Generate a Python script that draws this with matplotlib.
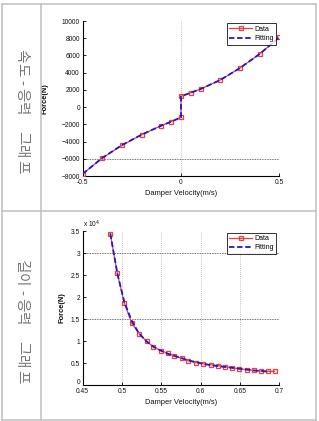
import matplotlib
matplotlib.use("Agg")
import matplotlib.pyplot as plt
from matplotlib.lines import Line2D
from matplotlib.ticker import FuncFormatter
import matplotlib.transforms as mtransforms

# ---------------- data ----------------
row_titles = ["속도-응력 그래프", "길이-응력 그래프"]

top_x = [-0.5, -0.4, -0.3, -0.2, -0.1, -0.05, 0.0, 0.0, 0.05, 0.1, 0.2, 0.3, 0.4, 0.5]
top_data = [-7750, -5900, -4440, -3200, -2150, -1690, -1190, 1250, 1680, 2100, 3150, 4540, 6170, 8100]
top_fit = [-7750, -5900, -4400, -3200, -2150, -1690, -1190, 1250, 1680, 2100, 3150, 4540, 6170, 8100]
top_xticks = [-0.5, 0, 0.5]
top_yticks = [-8000, -6000, -4000, -2000, 0, 2000, 4000, 6000, 8000, 10000]

bot_x = [0.4851, 0.4940, 0.5029, 0.5123, 0.5216, 0.5314, 0.5398, 0.5496, 0.5580, 0.5667,
         0.5759, 0.5842, 0.5940, 0.6033, 0.6127, 0.6216, 0.6309, 0.6402, 0.6491, 0.6585,
         0.6678, 0.6763, 0.6852, 0.6941]
bot_data = [34400, 25400, 18600, 14100, 11700, 9900, 8700, 7800, 7200, 6600,
            6100, 5500, 5100, 4800, 4600, 4400, 4200, 3900, 3700, 3500,
            3300, 3200, 3100, 3100]
bot_fit_x = bot_x[:-1]
bot_fit = [34400, 25400, 18900, 14600, 11700, 9900, 8700, 7800, 7100, 6600,
           6100, 5600, 5200, 4800, 4500, 4300, 4100, 3900, 3700, 3500,
           3300, 3200, 3050]
bot_xticks = [0.45, 0.5, 0.55, 0.6, 0.65, 0.7]
bot_xticklabels = ["0.45", "0.5", "0.55", "0.6", "0.65", "0.7"]
bot_yticks = [0, 5000, 10000, 15000, 20000, 25000, 30000, 35000]

# ---------------- figure ----------------
W, H = 319, 421
fig = plt.figure(figsize=(W / 100, H / 100), dpi=100)
fig.patch.set_facecolor("white")

def px_line(x0, y0, x1, y1, color="#c4c4c4", lw=1.2):
    fig.add_artist(Line2D([x0 / W, x1 / W], [1 - y0 / H, 1 - y1 / H],
                          transform=fig.transFigure, color=color, lw=lw))

# table borders
px_line(1.5, 3.5, 315.5, 3.5)
px_line(1.5, 419.5, 315.5, 419.5)
px_line(1.5, 3.5, 1.5, 419.5)
px_line(315.5, 3.5, 315.5, 419.5)
px_line(41, 3.5, 41, 419.5)
px_line(1.5, 211, 315.5, 211)

# vertical row titles, drawn glyph by glyph with letter spacing
def vertical_title(title, y_start):
    y = y_start
    for ch in title:
        if ch == " ":
            adv = 14
        elif ch == "-":
            adv = 10
        else:
            adv = 14.5
        if ch != " ":
            fig.text(21 / W, 1 - (y + adv / 2) / H, ch, rotation=270, ha="center",
                     va="center", fontsize=10.5, color="#777777",
                     family=["Noto Sans CJK KR", "DejaVu Sans"])
        y += adv

vertical_title(row_titles[0], 48)
vertical_title(row_titles[1], 258)

tick_font = dict(fontsize=4.8, family="Liberation Sans", color="#111111")
label_font = dict(fontsize=5.4, family="Liberation Sans", color="#111111")

red = "#f03c3c"
blue = "#1a1ad0"

def style_axes(ax):
    for s in ["top", "right"]:
        ax.spines[s].set_visible(False)
    for s in ["left", "bottom"]:
        ax.spines[s].set_linewidth(0.8)
    ax.tick_params(direction="in", length=2, width=0.6, pad=2)
    for lab in ax.get_xticklabels() + ax.get_yticklabels():
        lab.set_fontsize(tick_font["fontsize"])
        lab.set_family(tick_font["family"])
        lab.set_color(tick_font["color"])

def legend(ax, anchor):
    leg = ax.legend(loc="upper right", bbox_to_anchor=anchor,
                    handlelength=3.2, frameon=True, fancybox=False, borderpad=0.35,
                    labelspacing=0.35, handletextpad=0.4, borderaxespad=0,
                    prop={"family": "Liberation Sans", "size": 5})
    leg.get_frame().set_edgecolor("black")
    leg.get_frame().set_linewidth(0.7)
    leg.set_zorder(10)

# ---- top axes ----
ax1 = fig.add_axes([82.7 / W, 1 - 176 / H, 196.6 / W, 155 / H])
ax1.plot(top_x, top_data, "-s", color=red, lw=0.9, ms=3.2, mfc="none", mec=red, mew=0.9,
         label="Data", zorder=3)
ax1.plot(top_x, top_fit, "--", color=blue, lw=1.3, dashes=(3, 1.5), label="Fitting", zorder=4)
ax1.set_xlim(-0.5, 0.5)
ax1.set_ylim(-8000, 10000)
ax1.set_xticks(top_xticks)
ax1.set_xticklabels(["-0.5", "0", "0.5"])
ax1.set_yticks(top_yticks)
ax1.axvline(0, color="#aaaaaa", lw=0.6, ls=(0, (1, 1.5)), zorder=1)
ax1.axvline(0.5, color="#aaaaaa", lw=0.6, ls=(0, (1, 1.5)), zorder=1)
ax1.axhline(-6000, color="#444444", lw=0.6, ls=(0, (1, 1)), zorder=1)
style_axes(ax1)
ax1.set_xlabel("Damper Velocity(m/s)", labelpad=3, **label_font)
ax1.set_ylabel("Force(N)", labelpad=9, fontweight="bold", **label_font)
legend(ax1, (0.985, 0.985))

# ---- bottom axes ----
ax2 = fig.add_axes([82.7 / W, 1 - 385 / H, 196.6 / W, 154 / H])
ax2.plot(bot_x, bot_data, "-s", color=red, lw=0.9, ms=3.2, mfc="none", mec=red, mew=0.9,
         label="Data", zorder=3)
ax2.plot(bot_fit_x, bot_fit, "--", color=blue, lw=1.3, dashes=(3, 1.5), label="Fitting", zorder=4)
ax2.set_xlim(0.45, 0.7)
ax2.set_ylim(0, 35000)
ax2.set_xticks(bot_xticks)
ax2.set_xticklabels(bot_xticklabels)
ax2.set_yticks(bot_yticks)
ax2.yaxis.set_major_formatter(FuncFormatter(lambda v, p: f"{v / 1e4:g}"))
for xv in bot_xticks[1:]:
    ax2.axvline(xv, color="#aaaaaa", lw=0.6, ls=(0, (1, 1.5)), zorder=1)
for yv in [15000, 30000]:
    ax2.axhline(yv, color="#444444", lw=0.6, ls=(0, (1, 1)), zorder=1)
style_axes(ax2)
ax2.text(0.0, 1.005, r"x 10$^4$", transform=ax2.transAxes, ha="left", va="bottom",
         fontsize=4.8, family="Liberation Sans", color="#111111")
ax2.set_xlabel("Damper Velocity(m/s)", labelpad=3, **label_font)
ax2.set_ylabel("Force(N)", labelpad=4, fontweight="bold", **label_font)
legend(ax2, (0.985, 0.99))

# nudge the bottom "0" tick label up a little so it does not sit on "0.45"
fig.canvas.draw()
lab0 = ax2.get_yticklabels()[0]
lab0.set_transform(lab0.get_transform() +
                   mtransforms.ScaledTranslation(0, 3 / 100, fig.dpi_scale_trans))

fig.savefig("out.png", dpi=100, facecolor="white")
